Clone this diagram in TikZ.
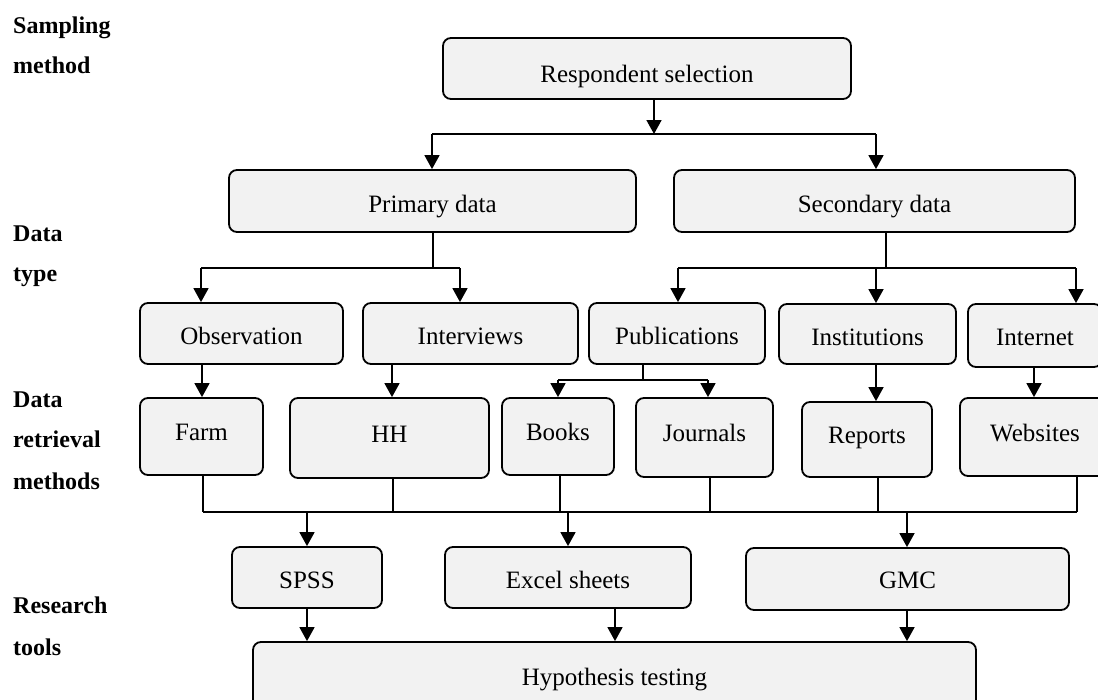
\documentclass[tikz,border=0pt]{standalone}
\usepackage{fontspec}
\setmainfont{Liberation Serif}
\usetikzlibrary{arrows.meta}
\definecolor{boxfill}{RGB}{242,242,242}
\tikzset{
  box/.style={draw=black, fill=boxfill, line width=1.8pt, rounded corners=8pt,
    inner sep=0pt, font=\fontsize{25}{29}\selectfont, text height=22pt, text depth=0pt},
  tallrow/.style={text height=8pt},
  conn/.style={line width=1.6pt, black},
  arr/.style={conn, -{Triangle[width=15pt,length=14pt]}},
  lbl/.style={anchor=base west, inner sep=0pt, font=\fontsize{24}{28}\selectfont\bfseries}
}
\begin{document}
\begin{tikzpicture}[x=1pt,y=-1pt]
\useasboundingbox (0,0) rectangle (1098,699);
% left labels
\node[lbl] (l1) at (13,33) {Sampling};
\node[lbl] (l2) at (13,73) {method};
\node[lbl] (l3) at (13,241) {Data};
\node[lbl] (l4) at (13,281) {type};
\node[lbl] (l5) at (13,407) {Data};
\node[lbl] (l6) at (13,447) {retrieval};
\node[lbl] (l7) at (13,489) {methods};
\node[lbl] (l8) at (13,613) {Research};
\node[lbl] (l9) at (13,655) {tools};
% boxes
\node[box, text height=27pt, minimum width=408pt, minimum height=61pt] (resp) at (647,68.5) {Respondent selection};
\node[box, minimum width=407pt, minimum height=62pt] (prim) at (432.5,201) {Primary data};
\node[box, minimum width=401pt, minimum height=62pt] (sec) at (874.5,201) {Secondary data};
\node[box, minimum width=203pt, minimum height=61pt] (obs) at (241.5,333.5) {Observation};
\node[box, minimum width=215pt, minimum height=61pt] (intv) at (470.5,333.5) {Interviews};
\node[box, minimum width=176pt, minimum height=61pt] (pub) at (677,333.5) {Publications};
\node[box, minimum width=177pt, minimum height=60pt] (inst) at (867.5,334) {Institutions};
\node[box, text height=19pt, minimum width=134pt, minimum height=63pt] (inet) at (1035,335.5) {Internet};
\node[box, tallrow, minimum width=123pt, minimum height=77pt] (farm) at (201.5,436.5) {Farm};
\node[box, tallrow, minimum width=199pt, minimum height=80pt] (hh) at (389.5,438) {HH};
\node[box, tallrow, minimum width=112pt, minimum height=77pt] (books) at (558,436.5) {Books};
\node[box, tallrow, minimum width=137pt, minimum height=79pt] (jour) at (704.5,437.5) {Journals};
\node[box, tallrow, minimum width=130pt, minimum height=75pt] (rep) at (867,439.5) {Reports};
\node[box, tallrow, minimum width=150pt, minimum height=78pt] (web) at (1035,437) {Websites};
\node[box, text height=21pt, minimum width=150pt, minimum height=61pt] (spss) at (307,577.5) {SPSS};
\node[box, text height=21pt, minimum width=246pt, minimum height=61pt] (excel) at (568,577.5) {Excel sheets};
\node[box, text height=18pt, minimum width=323pt, minimum height=62pt] (gmc) at (907.5,579) {GMC};
\node[box, text height=13pt, minimum width=723pt, minimum height=73pt] (hyp) at (614.5,678.5) {Hypothesis testing};
% level 1
\coordinate (b1) at (654,134);
\coordinate (b1l) at (432,134);
\coordinate (b1r) at (876,134);
\draw[arr] (b1 |- resp.south) -- (b1);
\draw[conn] (b1l) -- (b1r);
\draw[arr] (b1l) -- (b1l |- prim.north);
\draw[arr] (b1r) -- (b1r |- sec.north);
% primary
\coordinate (p0) at (433,268);
\coordinate (pl) at (201,268);
\coordinate (pr) at (460,268);
\draw[conn] (p0 |- prim.south) -- (p0);
\draw[conn] (pl) -- (pr);
\draw[arr] (pl) -- (pl |- obs.north);
\draw[arr] (pr) -- (pr |- intv.north);
% secondary
\coordinate (s0) at (886,268);
\coordinate (sl) at (678,268);
\coordinate (sm) at (876,268);
\coordinate (sr) at (1076,268);
\draw[conn] (s0 |- sec.south) -- (s0);
\draw[conn] (sl) -- (sr);
\draw[arr] (sl) -- (sl |- pub.north);
\draw[arr] (sm) -- (sm |- inst.north);
\draw[arr] (sr) -- (sr |- inet.north);
% publications
\coordinate (u0) at (643,380);
\coordinate (ul) at (558,380);
\coordinate (ur) at (708,380);
\draw[conn] (u0 |- pub.south) -- (u0);
\draw[conn] (ul) -- (ur);
\draw[arr] (ul) -- (ul |- books.north);
\draw[arr] (ur) -- (ur |- jour.north);
% direct
\coordinate (x1) at (202,0);
\coordinate (x2) at (392,0);
\coordinate (x3) at (876,0);
\coordinate (x4) at (1034,0);
\draw[arr] (x1 |- obs.south) -- (x1 |- farm.north);
\draw[arr] (x2 |- intv.south) -- (x2 |- hh.north);
\draw[arr] (x3 |- inst.south) -- (x3 |- rep.north);
\draw[arr] (x4 |- inet.south) -- (x4 |- web.north);
% bottom collector
\coordinate (c1) at (203,512);
\coordinate (c2) at (393,512);
\coordinate (c3) at (560,512);
\coordinate (c4) at (710,512);
\coordinate (c5) at (878,512);
\coordinate (c6) at (1077,512);
\draw[conn] (c1 |- farm.south) -- (c1);
\draw[conn] (c2 |- hh.south) -- (c2);
\draw[conn] (c3 |- books.south) -- (c3);
\draw[conn] (c4 |- jour.south) -- (c4);
\draw[conn] (c5 |- rep.south) -- (c5);
\draw[conn] (c6 |- web.south) -- (c6);
\draw[conn] (c1) -- (c6);
\coordinate (t1) at (307,512);
\coordinate (t2) at (568,512);
\coordinate (t3) at (907,512);
\draw[arr] (t1) -- (t1 |- spss.north);
\draw[arr] (t2) -- (t2 |- excel.north);
\draw[arr] (t3) -- (t3 |- gmc.north);
% to hypothesis
\coordinate (h1) at (307,0);
\coordinate (h2) at (615,0);
\coordinate (h3) at (907,0);
\draw[arr] (h1 |- spss.south) -- (h1 |- hyp.north);
\draw[arr] (h2 |- excel.south) -- (h2 |- hyp.north);
\draw[arr] (h3 |- gmc.south) -- (h3 |- hyp.north);
\end{tikzpicture}
\end{document}
